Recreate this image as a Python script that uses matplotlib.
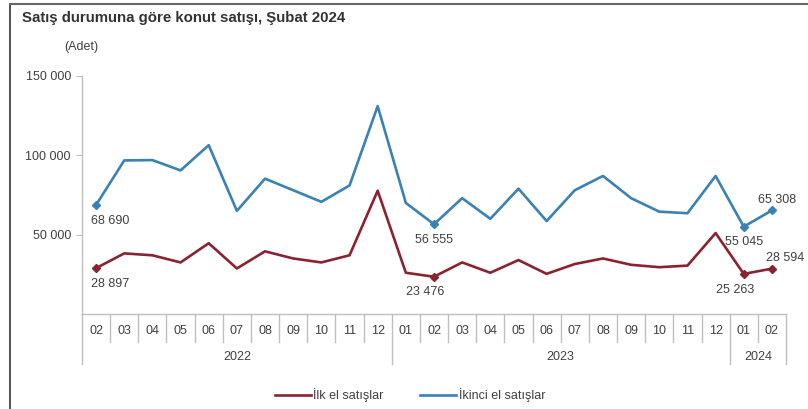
import matplotlib
matplotlib.use("Agg")
import matplotlib.pyplot as plt
from matplotlib.lines import Line2D
import matplotlib.transforms as mtransforms

plt.rcParams['font.family'] = ['Liberation Sans', 'DejaVu Sans']

months = ["02", "03", "04", "05", "06", "07", "08", "09", "10", "11", "12",
          "01", "02", "03", "04", "05", "06", "07", "08", "09", "10", "11", "12",
          "01", "02"]
years = ["2022", "2023", "2024"]
year_counts = [11, 12, 2]

ilk_el = [28897, 38200, 37000, 32500, 44600, 28700, 39500, 35000, 32500, 37000, 77700,
          26000, 23476, 32500, 26000, 34000, 25300, 31500, 35000, 31000, 29500, 30500, 51000,
          25263, 28594]
ikinci_el = [68690, 96800, 97000, 90500, 106400, 65000, 85300, 78000, 70700, 81000, 131000,
             70000, 56555, 73000, 60000, 79000, 58600, 78000, 87000, 73000, 64500, 63500, 87000,
             55045, 65308]

series_names = ["İlk el satışlar", "İkinci el satışlar"]
red = "#8B2232"
blue = "#3A82B5"
grey = "#BFBFBF"
txt = "#404040"

W, H = 808, 409
fig = plt.figure(figsize=(W / 100, H / 100), dpi=100)
ax_left, ax_right, ax_bottom, ax_top = 82, 786, 314, 76
ax = fig.add_axes([ax_left / W, 1 - ax_bottom / H, (ax_right - ax_left) / W, (ax_bottom - ax_top) / H])

x = list(range(len(months)))
ax.plot(x, ilk_el, color=red, lw=1.9, solid_joinstyle='round', label=series_names[0], zorder=3)
ax.plot(x, ikinci_el, color=blue, lw=1.9, solid_joinstyle='round', label=series_names[1], zorder=3)

marked = [0, 12, 23, 24]
ax.plot([x[i] for i in marked], [ilk_el[i] for i in marked], 'D', color=red, ms=4.5, zorder=4)
ax.plot([x[i] for i in marked], [ikinci_el[i] for i in marked], 'D', color=blue, ms=4.5, zorder=4)

def fmt(v):
    return f"{v:,}".replace(",", " ")

lab_kw = dict(textcoords='offset points', fontsize=9, color=txt)
# (index, series, dx, dy, ha, va)
for i, d, dx, dy, ha, va in [
    (0, ikinci_el, -4, -7, 'left', 'top'),
    (0, ilk_el, -4, -7, 'left', 'top'),
    (12, ikinci_el, 0, -7, 'center', 'top'),
    (12, ilk_el, -6, -7, 'center', 'top'),
    (23, ikinci_el, 0, -7, 'center', 'top'),
    (23, ilk_el, -6, -7, 'center', 'top'),
    (24, ikinci_el, -10, 3, 'left', 'bottom'),
    (24, ilk_el, -4, 3, 'left', 'bottom'),
]:
    ax.annotate(fmt(d[i]), (x[i], d[i]), xytext=(dx, dy), ha=ha, va=va, **lab_kw)

ax.set_xlim(-0.5, len(months) - 0.5)
ax.set_ylim(0, 150000)
ax.set_yticks([50000, 100000, 150000])
ax.set_yticklabels([fmt(v) for v in [50000, 100000, 150000]])
ax.tick_params(axis='y', length=4, color=grey, labelsize=9, labelcolor=txt, pad=4)
ax.set_xticks([])
for s in ['top', 'right']:
    ax.spines[s].set_visible(False)
ax.spines['left'].set_color(grey)
ax.spines['bottom'].set_color(grey)
ax.spines['left'].set_linewidth(1.0)
ax.spines['bottom'].set_linewidth(1.0)

tr = mtransforms.blended_transform_factory(ax.transData, ax.transAxes)
h = ax_bottom - ax_top
month_y = -(331 - ax_bottom) / h
year_y = -(357 - ax_bottom) / h
msep = -(342 - ax_bottom) / h
ysep = -(364 - ax_bottom) / h

for i, m in enumerate(months):
    ax.text(i, month_y, m, transform=tr, ha='center', va='center', fontsize=9, color=txt)
year_bounds = [0]
for c in year_counts:
    year_bounds.append(year_bounds[-1] + c)
for k in range(len(months) + 1):
    xb = k - 0.5
    bottom = ysep if k in year_bounds else msep
    ax.add_line(Line2D([xb, xb], [0, bottom], transform=tr, color=grey, lw=1.0, clip_on=False))
for yr, a, b in zip(years, year_bounds[:-1], year_bounds[1:]):
    ax.text((a + b - 1) / 2, year_y, yr, transform=tr, ha='center', va='center', fontsize=9, color=txt)

fig.text(22 / W, 1 - 18 / H, "Satış durumuna göre konut satışı, Şubat 2024", fontsize=10.8,
         fontweight='bold', color="#333333", ha='left', va='center')
fig.text(81 / W, 1 - 47 / H, "(Adet)", fontsize=9, color=txt, ha='center', va='center')

fig.legend(loc='center', bbox_to_anchor=(410 / W, 1 - 395 / H), ncol=2, frameon=False,
           fontsize=9, handlelength=2.9, columnspacing=2.9, handletextpad=0.2,
           labelcolor=txt)

fig.add_artist(Line2D([10 / W, 10 / W], [0, 1 - 4 / H], color="#333333", lw=1.2))
fig.add_artist(Line2D([10 / W, 1], [1 - 4 / H, 1 - 4 / H], color="#666666", lw=1.5))

fig.savefig("out.png", dpi=100)
